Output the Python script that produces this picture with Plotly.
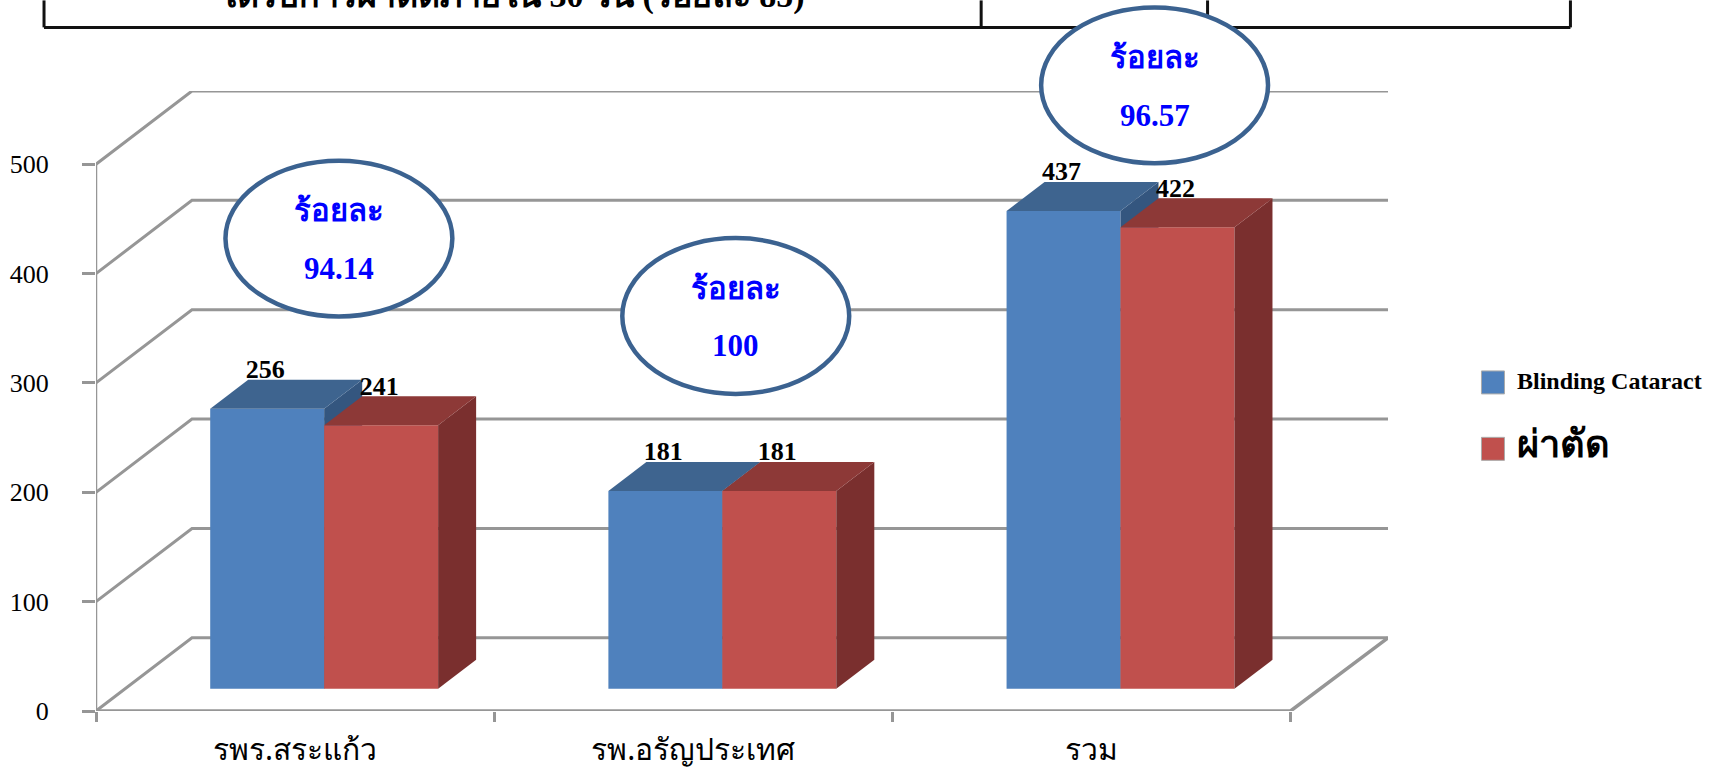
import plotly.graph_objects as go

categories = ["รพร.สระแก้ว", "รพ.อรัญประเทศ", "รวม"]
blinding = [256, 181, 437]
surgery = [241, 181, 422]
percent_labels = ["94.14", "100", "96.57"]
y_ticks = [0, 100, 200, 300, 400, 500]
series_names = ["Blinding Cataract", "ผ่าตัด"]

# Page-pixel geometry of the pseudo-3D plot box
FX0, FX1, BX1 = 96.0, 1291.0, 1388.5      # front axis start/end, back wall end
Y0, Y_TOP = 711.5, 90.7                   # zero line, top of the back wall
PX_PER_UNIT = 1.095
PX_PER_CAT = (FX1 - FX0) / 3
W, H = 1719, 768

WALL_DX = 96 / PX_PER_CAT                 # depth offset in category units
WALL_DY = 73.3 / PX_PER_UNIT              # depth offset in value units
BAR_D0 = 0.303                            # bar front-face depth (0=front, 1=back)
BAR_DD = 0.396                            # bar depth
BAR_W = 114 / PX_PER_CAT
X_MAX = (BX1 - FX0) / PX_PER_CAT
Y_MAX = (Y0 - Y_TOP) / PX_PER_UNIT


def proj(x, v, d):
    return x + d * WALL_DX, v + d * WALL_DY


def box_faces(x0, x1, v):
    """Top and side face polygons for a bar, from its data value."""
    d0, d1 = BAR_D0, BAR_D0 + BAR_DD
    a = proj(x0, v, d0); b = proj(x1, v, d0); c = proj(x1, v, d1); e = proj(x0, v, d1)
    f = proj(x1, 0, d1); g = proj(x1, 0, d0)
    top = ([a[0], b[0], c[0], e[0], a[0]], [a[1], b[1], c[1], e[1], a[1]])
    side = ([b[0], c[0], f[0], g[0], b[0]], [b[1], c[1], f[1], g[1], b[1]])
    return top, side


def poly(xy, color, xa, ya):
    return go.Scatter(x=xy[0], y=xy[1], mode="lines", fill="toself", fillcolor=color,
                      line=dict(width=0, color=color), hoverinfo="skip", showlegend=False,
                      xaxis=xa, yaxis=ya)


def px_x(p):
    return (p - FX0) / (BX1 - FX0)


def px_y(p):
    return (Y0 - p) / (Y0 - Y_TOP)


GRID = "#969696"
fig = go.Figure()

# Walls and gridlines
for v in y_ticks:
    a = proj(0, v, 0); b = proj(0, v, 1)
    fig.add_trace(go.Scatter(x=[a[0], b[0], X_MAX], y=[a[1], b[1], b[1]], mode="lines", cliponaxis=False,
                             line=dict(color=GRID, width=3), hoverinfo="skip", showlegend=False))
# Floor outline and front axes
c = proj(3, 0, 1)
fig.add_trace(go.Scatter(x=[0, 3, X_MAX], y=[0, 0, c[1]], mode="lines", cliponaxis=False,
                         line=dict(color=GRID, width=3.5), hoverinfo="skip", showlegend=False))
fig.add_trace(go.Scatter(x=[0, 0], y=[0, 500], mode="lines", cliponaxis=False,
                         line=dict(color=GRID, width=2.5), hoverinfo="skip", showlegend=False))

cat_mid = [i + 0.5 for i in range(3)]
centers = [m + BAR_D0 * WALL_DX for m in cat_mid]
base = BAR_D0 * WALL_DY

# Blue bars (middle layer)
for m, v in zip(cat_mid, blinding):
    top, side = box_faces(m - BAR_W, m, v)
    fig.add_trace(poly(side, "#34567F", "x2", "y2"))
    fig.add_trace(poly(top, "#3E648F", "x2", "y2"))
fig.add_trace(go.Bar(x=centers, y=blinding, base=base, width=BAR_W, offset=-BAR_W,
                     name=series_names[0], marker=dict(color="#4F81BD", line=dict(width=0)),
                     xaxis="x2", yaxis="y2", showlegend=False))

# Red bars (front layer)
for m, v in zip(cat_mid, surgery):
    top, side = box_faces(m, m + BAR_W, v)
    fig.add_trace(poly(side, "#7A2F2E", "x3", "y3"))
    fig.add_trace(poly(top, "#8D3937", "x3", "y3"))
fig.add_trace(go.Bar(x=centers, y=surgery, base=base, width=BAR_W, offset=0,
                     name=series_names[1], marker=dict(color="#C0504D", line=dict(width=0)),
                     xaxis="x3", yaxis="y3", showlegend=False))

# Value labels
lab_up = 37 / PX_PER_UNIT
lab_shift = -2 / PX_PER_CAT
fig.add_trace(go.Scatter(
    x=[cx - BAR_W / 2 + lab_shift for cx in centers] + [cx + BAR_W / 2 + lab_shift for cx in centers],
    y=[base + v + lab_up for v in blinding] + [base + v + lab_up for v in surgery],
    text=[f"<b>{v}</b>" for v in blinding] + [f"<b>{v}</b>" for v in surgery],
    mode="text", textposition="middle center", cliponaxis=False,
    textfont=dict(family="Liberation Serif", size=26, color="black"),
    hoverinfo="skip", showlegend=False, xaxis="x3", yaxis="y3"))

axis_common = dict(range=[0, X_MAX], showgrid=False, zeroline=False, showline=False, automargin=False)
yaxis_common = dict(range=[0, Y_MAX], showgrid=False, zeroline=False, showline=False, automargin=False)

shapes = []
anns = []


def note(px, py, text, size, color="black", family="Liberation Serif", xanchor="center"):
    anns.append(dict(xref="paper", yref="paper", x=px_x(px), y=px_y(py), text=text, showarrow=False,
                     xanchor=xanchor, yanchor="middle", font=dict(family=family, size=size, color=color)))


# Table fragment at top of the page
for x0, y0, x1, y1 in [(44, 27, 1571, 27), (44, 0, 44, 27), (981.5, 0, 981.5, 27),
                       (1208, 0, 1208, 27), (1571, 0, 1571, 27)]:
    shapes.append(dict(type="line", xref="paper", yref="paper", x0=px_x(x0), x1=px_x(x1),
                       y0=px_y(y0), y1=px_y(y1), layer="above", line=dict(color="#111111", width=3)))
note(511, -5, "<b>ได้รับการผ่าตัดภายใน 30 วัน (ร้อยละ 85)</b>", 34)

# Callout ellipses
ell = [(339, 238.5), (736, 316), (1155, 85)]
for (ex, ey), pct in zip(ell, percent_labels):
    shapes.append(dict(type="circle", xref="paper", yref="paper", layer="above",
                       x0=px_x(ex - 113.5), x1=px_x(ex + 113.5), y0=px_y(ey + 78), y1=px_y(ey - 78),
                       line=dict(color="#3B6290", width=4.5), fillcolor="white"))
    note(ex, ey - 28, "<b>ร้อยละ</b>", 31, "#0000FF")
    note(ex, ey + 30, f"<b>{pct}</b>", 31, "#0000FF")

# Legend
legend_rows = [(382.5, series_names[0], "Liberation Serif", 24),
               (449, series_names[1], "Noto Sans", 38)]
for (ly, nm, fam, sz), col in zip(legend_rows, ["#4F81BD", "#C0504D"]):
    shapes.append(dict(type="rect", xref="paper", yref="paper", x0=px_x(1482), x1=px_x(1505),
                       y0=px_y(ly + 11.5), y1=px_y(ly - 11.5), fillcolor=col, line=dict(color="#AAAAAA", width=1)))
    note(1516, ly - (1 if sz == 24 else 7), f"<b>{nm}</b>", sz, family=fam, xanchor="left")

fig.update_layout(
    width=W, height=H, autosize=False,
    margin=dict(l=FX0, r=W - BX1, t=Y_TOP, b=H - Y0, pad=0, autoexpand=False),
    paper_bgcolor="white", plot_bgcolor="white", barmode="overlay", showlegend=False,
    font=dict(family="Liberation Serif", color="black"),
    xaxis=dict(**axis_common, tickvals=cat_mid, ticktext=categories, ticks="", ticklabelstandoff=18,
               tickfont=dict(family="Noto Sans", size=30, color="black")),
    xaxis2=dict(**axis_common, overlaying="x", anchor="y", side="bottom", tickvals=[0, 1, 2, 3], ticktext=["", "", "", ""],
                ticks="outside", ticklen=10, tickwidth=2.5, tickcolor=GRID),
    xaxis3=dict(**axis_common, overlaying="x", anchor="y", visible=False),
    yaxis=dict(**yaxis_common, tickvals=y_ticks, ticks="outside", ticklen=13, tickwidth=3, tickcolor=GRID,
               ticklabelstandoff=28, tickfont=dict(family="Liberation Serif", size=26, color="black")),
    yaxis2=dict(**yaxis_common, overlaying="y", anchor="x", visible=False),
    yaxis3=dict(**yaxis_common, overlaying="y", anchor="x", visible=False),
    shapes=shapes, annotations=anns,
)
fig.write_html("out.html", config=dict(displayModeBar=False),
               post_script="document.body.style.margin='0';")
